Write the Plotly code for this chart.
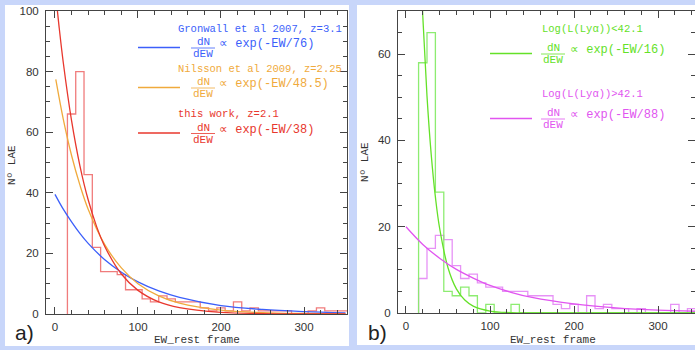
import plotly.graph_objects as go

# ---------------- data ----------------
bin_centers = [20, 30, 40, 50, 60, 70, 80, 90, 100, 110, 120, 130, 140, 150, 160, 170, 180,
               190, 200, 210, 220, 230, 240, 250, 260, 270, 280, 290, 300, 310, 320, 330, 340, 350]
counts_this_work = [66, 80, 46, 22, 14, 14, 13, 8, 8, 5, 4, 6, 5, 4, 4, 4, 2,
                    1, 2, 1, 4, 1, 2, 1, 1, 1, 1, 0, 0, 1, 2, 1, 1, 1]
counts_low_L = [58, 65, 28, 5, 4, 6, 4, 0, 2, 0, 0, 2, 0, 0, 0, 0, 0,
                0, 0, 0, 0, 0, 0, 0, 0, 0, 0, 0, 0, 0, 0, 0, 0, 0]
counts_high_L = [8, 15, 18, 17, 11, 8, 9, 7, 6, 6, 5, 5, 5, 4, 4, 4, 2,
                 1, 2, 0, 4, 1, 2, 1, 1, 0, 1, 0, 0, 0, 2, 0, 1, 1]

# fitted curves, values
ew_blue = [0, 10, 20, 30, 40, 60, 80, 100, 125, 150, 200, 250, 300, 350]
n_blue = [39.5, 34.6, 30.4, 26.6, 23.3, 17.9, 13.8, 10.6, 7.6, 5.5, 2.8, 1.5, 0.8, 0.4]
ew_orange = [1, 10, 20, 30, 40, 60, 80, 100, 125, 150, 200, 250, 300, 350]
n_orange = [77.4, 64.3, 52.3, 42.6, 34.6, 22.9, 15.2, 10.0, 6.0, 3.6, 1.3, 0.46, 0.16, 0.06]
ew_red = [0, 5, 10, 20, 30, 40, 50, 60, 80, 100, 125, 150, 200, 250, 300, 350]
n_red = [108, 94.7, 83.0, 63.8, 49.0, 37.7, 29.0, 22.3, 13.2, 7.8, 4.0, 2.1, 0.56, 0.15, 0.04, 0.01]
ew_green = [10, 15, 20, 25, 30, 35, 40, 50, 60, 70, 80, 100, 125, 150, 200, 250, 300, 350]
n_green = [128.5, 94, 68.8, 50.3, 36.8, 26.9, 19.7, 10.5, 5.6, 3.0, 1.6, 0.46, 0.1, 0.02, 0, 0, 0, 0]
ew_magenta = [0, 20, 40, 60, 80, 100, 125, 150, 200, 250, 300, 350]
n_magenta = [20, 15.9, 12.7, 10.1, 8.1, 6.4, 4.8, 3.6, 2.1, 1.2, 0.66, 0.38]

x_ticks = [0, 100, 200, 300]
y_ticks_a = [0, 20, 40, 60, 80, 100]
y_ticks_b = [0, 20, 40, 60]

# ---------------- style ----------------
W, H = 695, 350
BLUE = "rgb(60,95,250)"
ORANGE = "rgb(240,170,60)"
RED = "rgb(232,55,45)"
RED_H = "rgba(238,110,110,0.9)"
GREEN = "rgb(100,225,40)"
GREEN_H = "rgba(135,235,105,0.95)"
MAG = "rgb(225,85,240)"
MAG_H = "rgba(230,140,245,0.95)"
BG = "rgb(200,214,250)"
AX = "#444"
MONO = "Liberation Mono"
BIN_W = 10


def px(x):
    return x / W


def py(y):
    return 1 - y / H


def step_xy(centers, counts):
    """Outline of a step histogram built from bin centres and counts."""
    left = [c - BIN_W / 2 for c in centers]
    xs = [left[0]] + left + [centers[-1] + BIN_W / 2]
    ys = [0] + list(counts) + [counts[-1]]
    return xs, ys


fig = go.Figure()

hx, hy = step_xy(bin_centers, counts_this_work)
fig.add_trace(go.Scatter(x=hx, y=hy, mode="lines", line=dict(color=RED_H, width=1.3, shape="hv"),
                         xaxis="x", yaxis="y"))
fig.add_trace(go.Scatter(x=ew_blue, y=n_blue, mode="lines", line=dict(color=BLUE, width=1.3, shape="spline"),
                         xaxis="x", yaxis="y"))
fig.add_trace(go.Scatter(x=ew_orange, y=n_orange, mode="lines", line=dict(color=ORANGE, width=1.3, shape="spline"),
                         xaxis="x", yaxis="y"))
fig.add_trace(go.Scatter(x=ew_red, y=n_red, mode="lines", line=dict(color=RED, width=1.3, shape="spline"),
                         xaxis="x", yaxis="y"))

hx, hy = step_xy(bin_centers, counts_high_L)
fig.add_trace(go.Scatter(x=hx, y=hy, mode="lines", line=dict(color=MAG_H, width=1.3, shape="hv"),
                         xaxis="x2", yaxis="y2"))
hx, hy = step_xy(bin_centers, counts_low_L)
fig.add_trace(go.Scatter(x=hx, y=hy, mode="lines", line=dict(color=GREEN_H, width=1.3, shape="hv"),
                         xaxis="x2", yaxis="y2"))
fig.add_trace(go.Scatter(x=ew_green, y=n_green, mode="lines", line=dict(color=GREEN, width=1.3, shape="spline"),
                         xaxis="x2", yaxis="y2"))
fig.add_trace(go.Scatter(x=ew_magenta, y=n_magenta, mode="lines", line=dict(color=MAG, width=1.3, shape="spline"),
                         xaxis="x2", yaxis="y2"))

tickfont = dict(family="Liberation Sans, Arial", size=11.5, color="#333")


def xaxis(domain, rng, anchor):
    return dict(domain=domain, range=rng, anchor=anchor, showgrid=False, zeroline=False,
                showline=True, linecolor=AX, linewidth=1, mirror="ticks", automargin=False,
                ticks="inside", ticklen=7, tickwidth=1, tickcolor=AX,
                tickvals=x_ticks, tickfont=tickfont, ticklabelstandoff=2,
                minor=dict(dtick=20, ticks="inside", ticklen=4, tickcolor=AX, tickwidth=1, showgrid=False))


def yaxis(domain, rng, anchor, ticks):
    return dict(domain=domain, range=rng, anchor=anchor, showgrid=False, zeroline=False,
                showline=True, linecolor=AX, linewidth=1, mirror="ticks", automargin=False,
                ticks="inside", ticklen=7, tickwidth=1, tickcolor=AX,
                tickvals=ticks, tickfont=tickfont, ticklabelstandoff=4,
                minor=dict(dtick=5, ticks="inside", ticklen=4, tickcolor=AX, tickwidth=1, showgrid=False))


shapes = [
    dict(type="rect", xref="paper", yref="paper", x0=px(5), x1=px(349), y0=py(346), y1=py(5),
         fillcolor="white", line=dict(width=0), layer="below"),
    dict(type="rect", xref="paper", yref="paper", x0=px(357), x1=px(700), y0=py(345), y1=py(5),
         fillcolor="white", line=dict(width=0), layer="below"),
]
annotations = []


def text(x, y, s, color, size=10.5, xanchor="left", family=MONO, angle=0):
    annotations.append(dict(x=px(x), y=py(y), xref="paper", yref="paper", text=s, showarrow=False,
                            xanchor=xanchor, yanchor="middle", textangle=angle,
                            font=dict(family=family, size=size, color=color)))


def legend_entry(title, title_x, title_y, line_x0, line_x1, line_y, frac_x, exp_x, exp_text, color):
    text(title_x, title_y, title, color)
    shapes.append(dict(type="line", xref="paper", yref="paper", x0=px(line_x0), x1=px(line_x1),
                       y0=py(line_y), y1=py(line_y), line=dict(color=color, width=1.5)))
    text(frac_x, line_y - 5.5, "dN", color, size=11, xanchor="center")
    shapes.append(dict(type="line", xref="paper", yref="paper", x0=px(frac_x - 12), x1=px(frac_x + 12),
                       y0=py(line_y + 0.5), y1=py(line_y + 0.5), line=dict(color=color, width=0.8)))
    text(frac_x, line_y + 6.5, "dEW", color, size=11, xanchor="center")
    text(exp_x, line_y - 3.5, exp_text, color, size=12)


legend_entry("Gronwall et al 2007, z=3.1", 176, 29, 138, 180, 47.5, 203, 217, "∝ exp(-EW/76)", BLUE)
legend_entry("Nilsson et al 2009, z=2.25", 176, 69, 138, 180, 87.5, 203, 217, "∝ exp(-EW/48.5)", ORANGE)
legend_entry("this work, z=2.1", 176, 114, 138, 180, 133, 203, 217, "∝ exp(-EW/38)", RED)
legend_entry("Log(L(Lyα))<42.1", 540, 29, 490, 532, 53.5, 553, 568, "∝ exp(-EW/16)", GREEN)
legend_entry("Log(L(Lyα))>42.1", 540, 94, 490, 532, 118.5, 553, 568, "∝ exp(-EW/88)", MAG)

# axis titles
text(197, 340, "EW_rest frame", "#333", size=11, xanchor="center")
text(553, 340, "EW_rest frame", "#333", size=11, xanchor="center")
text(12, 165, "Nº LAE", "#333", size=11, xanchor="center", angle=-90)
text(365, 162, "Nº LAE", "#333", size=11, xanchor="center", angle=-90)
# panel labels
text(13, 332, "a)", "#222", size=21, family="Liberation Sans, Arial")
text(366, 332, "b)", "#222", size=21, family="Liberation Sans, Arial")

fig.update_layout(
    width=W, height=H, autosize=False,
    margin=dict(l=0, r=0, t=0, b=0, pad=0, autoexpand=False),
    paper_bgcolor=BG, plot_bgcolor="white", showlegend=False,
    xaxis=xaxis([px(46), px(347)], [-10.8, 351.8], "y"),
    yaxis=yaxis([py(314), py(11)], [0, 100], "x", y_ticks_a),
    xaxis2=xaxis([px(398), 1.0], [-9.5, 344], "y2"),
    yaxis2=yaxis([py(313), py(11)], [0, 70], "x2", y_ticks_b),
    shapes=shapes, annotations=annotations,
)

fig.write_html(
    "out.html",
    config={"responsive": False, "displayModeBar": False},
    post_script="document.documentElement.style.margin='0px';document.body.style.margin='0px';"
                "document.body.style.overflow='hidden';",
)
